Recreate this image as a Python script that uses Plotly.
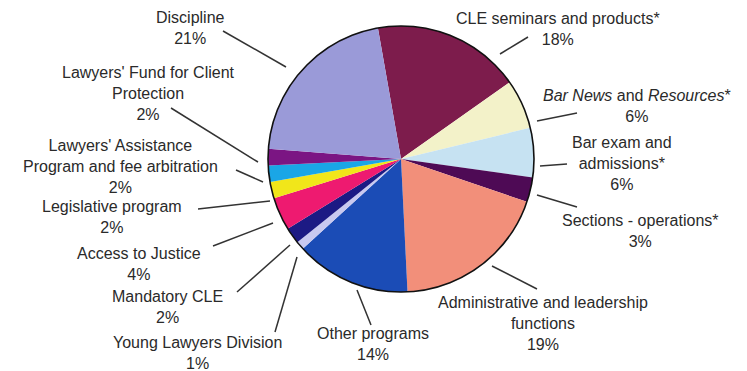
import plotly.graph_objects as go

# ---- data ----
labels = [
    "CLE seminars and products*", "Bar News and Resources*", "Bar exam and admissions*",
    "Sections - operations*", "Administrative and leadership functions", "Other programs",
    "Young Lawyers Division", "Mandatory CLE", "Access to Justice", "Legislative program",
    "Lawyers' Assistance Program and fee arbitration", "Lawyers' Fund for Client Protection",
    "Discipline",
]
values = [18, 6, 6, 3, 19, 14, 1, 2, 4, 2, 2, 2, 21]
label_text = [
    "CLE seminars and products*",
    "<i>Bar News</i> and <i>Resources</i>*",
    "Bar exam and<br>admissions*",
    "Sections - operations*",
    "Administrative and leadership<br>functions",
    "Other programs",
    "Young Lawyers Division",
    "Mandatory CLE",
    "Access to Justice",
    "Legislative program",
    "Lawyers' Assistance<br>Program and fee arbitration",
    "Lawyers' Fund for Client<br>Protection",
    "Discipline",
]

# ---- styles ----
colors = ["#7d1c4c", "#f3f2c9", "#c6e2f2", "#4e0a55", "#f28f7a", "#1b4cb6",
          "#c9c9f0", "#1c1a84", "#ee1a70", "#f1e61a", "#1aa6e6", "#7b1583", "#9a9ad8"]

W, H = 747, 371
CX, CY, R = 401, 159, 133

# label layout: text center (px), leader line outer end (px), leader inner end (px)
label_pos = [
    (558, 29), (637, 106), (622, 164), (640, 231), (543, 323), (373, 344),
    (197, 353), (167, 307), (139, 264), (112, 217), (120, 166), (148, 93), (190, 28),
]
line_pts = [
    ((528, 37), (500, 54)),
    ((577, 113), (537, 121)),
    ((567, 164), (540, 166)),
    ((577, 207), (537, 195)),
    ((537, 289), (492, 266)),
    ((371, 325), (357, 290)),
    ((275, 332), (297, 257)),
    ((237, 292), (290, 245)),
    ((213, 246), (273, 223)),
    ((198, 209), (270, 201)),
    ((236, 170), (263, 182)),
    ((171, 108), (258, 162)),
    ((223, 31), (286, 67)),
]

def px(x):
    return x / W

def py(y):
    return 1 - y / H

fig = go.Figure(go.Pie(
    labels=labels, values=values, sort=False, direction="clockwise", rotation=-10,
    marker=dict(colors=colors, line=dict(width=0)),
    textinfo="none", hoverinfo="label+percent", showlegend=False,
    domain=dict(x=[px(CX - R), px(CX + R)], y=[py(CY + R), py(CY - R)]),
))

shapes = [dict(type="circle", xref="paper", yref="paper",
               x0=px(CX - R), x1=px(CX + R), y0=py(CY + R), y1=py(CY - R),
               line=dict(color="#111111", width=1.6))]
for (a, b) in line_pts:
    shapes.append(dict(type="line", xref="paper", yref="paper",
                       x0=px(a[0]), y0=py(a[1]), x1=px(b[0]), y1=py(b[1]),
                       line=dict(color="#333333", width=1.5)))

annotations = []
for txt, v, (x, y) in zip(label_text, values, label_pos):
    annotations.append(dict(
        text=f"{txt}<br>{v}%", x=px(x), y=py(y), xref="paper", yref="paper",
        showarrow=False, xanchor="center", yanchor="middle", align="center",
        font=dict(family="Liberation Sans, Arial, sans-serif", size=16, color="#2a2a2a"),
    ))

fig.update_layout(
    width=W, height=H, margin=dict(l=0, r=0, t=0, b=0),
    paper_bgcolor="white", plot_bgcolor="white",
    shapes=shapes, annotations=annotations,
)

fig.write_html("out.html")
